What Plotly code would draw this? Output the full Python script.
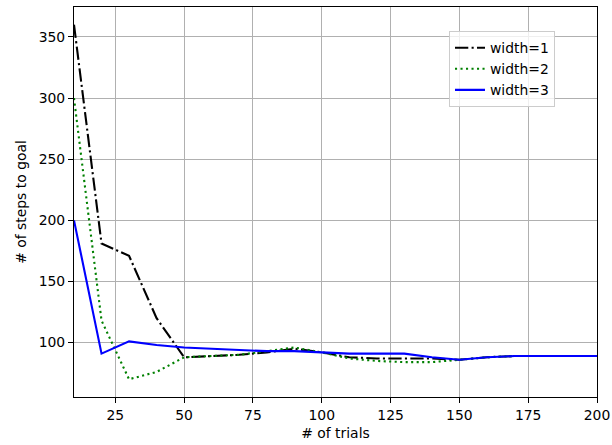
import plotly.graph_objects as go

# Mean number of steps needed to reach the goal, per number of trials
trials = [10, 20, 30, 40, 50, 60, 70, 80, 90, 100,
          110, 120, 130, 140, 150, 160, 170, 180, 190, 200]
steps_width1 = [360, 181, 171, 120, 88, 89, 90, 92, 95, 92,
                88, 87, 87, 87, 86, 88, 89, 89, 89, 89]
steps_width2 = [300, 118, 70, 76, 88, 89, 90, 93, 96, 92,
                87, 85, 84, 84, 86, 88, 89, 89, 89, 89]
steps_width3 = [200, 91, 101, 98, 96, 95, 94, 93, 93, 92,
                91, 91, 91, 88, 86, 88, 89, 89, 89, 89]

series_names = ["width=1", "width=2", "width=3"]
x_ticks = [25, 50, 75, 100, 125, 150, 175, 200]
y_ticks = [100, 150, 200, 250, 300, 350]

FONT = "DejaVu Sans"
FS = 13.9
LW = 2.1  # 1.5 pt at 100 dpi

fig = go.Figure()
fig.add_trace(go.Scatter(
    x=trials, y=steps_width1, mode="lines", name=series_names[0],
    line=dict(color="#000000", width=LW, dash="13.3px,3.3px,2.1px,3.3px")))
fig.add_trace(go.Scatter(
    x=trials, y=steps_width2, mode="lines", name=series_names[1],
    line=dict(color="#008000", width=LW, dash="2.1px,3.4px")))
fig.add_trace(go.Scatter(
    x=trials, y=steps_width3, mode="lines", name=series_names[2],
    line=dict(color="#0000ff", width=LW)))

axis_common = dict(
    showgrid=True, gridcolor="#b0b0b0", gridwidth=1.1,
    zeroline=False, showline=True, linecolor="#000000", linewidth=1.1,
    mirror=True, ticks="outside", ticklen=5, tickwidth=1.1,
    tickcolor="#000000", automargin=False,
    tickfont=dict(family=FONT, size=FS, color="#000000"),
)

all_y = steps_width1 + steps_width2 + steps_width3
ymin, ymax = min(all_y), max(all_y)
pad = 0.05 * (ymax - ymin)

fig.update_xaxes(
    range=[min(trials), max(trials)], tickvals=x_ticks,
    title=dict(text="# of trials", standoff=6,
               font=dict(family=FONT, size=FS, color="#000000")),
    **axis_common)
fig.update_yaxes(
    range=[ymin - pad, ymax + pad], tickvals=y_ticks,
    title=dict(text="# of steps to goal", standoff=8,
               font=dict(family=FONT, size=FS, color="#000000")),
    **axis_common)

fig.update_layout(
    width=612, height=445,
    margin=dict(l=74, r=15, t=7, b=48),
    paper_bgcolor="#ffffff", plot_bgcolor="#ffffff",
    font=dict(family=FONT, size=FS, color="#000000"),
    legend=dict(
        x=0.717, y=0.938, xanchor="left", yanchor="top",
        bgcolor="rgba(255,255,255,0.8)", bordercolor="#cccccc",
        borderwidth=1, tracegroupgap=0,
        font=dict(family=FONT, size=FS, color="#000000"),
    ),
)

fig.write_html("out.html")
